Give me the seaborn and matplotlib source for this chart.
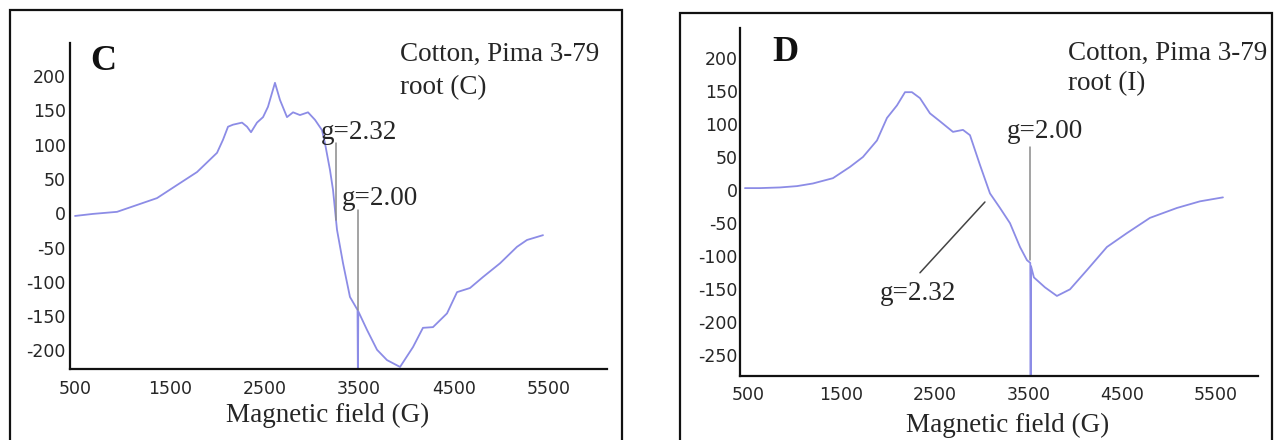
import matplotlib
matplotlib.use("Agg")
import matplotlib.pyplot as plt
import seaborn as sns
import pandas as pd
from matplotlib.patches import Rectangle

# ---- data ----
field_c = [500, 690, 944, 1155, 1366, 1577, 1789, 2000, 2063, 2116,
           2169, 2264, 2317, 2359, 2422, 2486, 2538, 2612, 2665, 2739,
           2803, 2876, 2961, 3035, 3109, 3140, 3193, 3225, 3267, 3331,
           3404, 3484, 3488, 3492, 3584, 3690, 3795, 3933, 4070, 4175,
           4281, 4429, 4535, 4672, 4809, 4989, 5168, 5274, 5443]
signal_c = [-4, -1, 2, 12, 22, 41, 60, 88, 107, 126,
            129, 132, 126, 118, 132, 140, 155, 190, 165, 140,
            147, 143, 147, 136, 121, 102, 63, 34, -24, -73,
            -122, -141, -240, -143, -170, -199, -214, -224, -195, -167,
            -166, -146, -115, -109, -93, -73, -49, -39, -32]

field_d = [468, 628, 842, 1024, 1195, 1409, 1591, 1730, 1880, 1987,
           2094, 2180, 2254, 2340, 2447, 2554, 2693, 2800, 2875, 2982,
           3089, 3196, 3303, 3410, 3485, 3520, 3524, 3528, 3559, 3677,
           3805, 3945, 4126, 4340, 4554, 4800, 5089, 5335, 5581]
signal_d = [3, 3, 4, 6, 10, 18, 35, 50, 75, 109,
            128, 148, 148, 139, 116, 104, 88, 91, 83, 38,
            -5, -27, -50, -86, -106, -110, -290, -115, -132, -147,
            -160, -150, -121, -86, -65, -42, -27, -17, -11]

xticks = [500, 1500, 2500, 3500, 4500, 5500]
yticks_c = [-200, -150, -100, -50, 0, 50, 100, 150, 200]
yticks_d = [-250, -200, -150, -100, -50, 0, 50, 100, 150, 200]

panel_c = "C"
panel_d = "D"
title_c = ["Cotton, Pima 3-79", "root (C)"]
title_d = ["Cotton, Pima 3-79", "root (I)"]
xlabel = "Magnetic field (G)"

# ---- style ----
sns.set_style("white")
plt.rcParams["font.family"] = ["DejaVu Sans"]

W, H = 1274, 440
fig = plt.figure(figsize=(W / 100, H / 100), dpi=100)

def fx(px):
    return px / W

def fy(py):
    return 1 - py / H

line_col = "#8c8ce6"
text_col = "#262626"
serif = ["Liberation Serif", "DejaVu Serif"]
fs = 19.5

# outer frames
fig.patches.append(Rectangle((fx(10), fy(460)), fx(622) - fx(10), fy(10) - fy(460),
                             transform=fig.transFigure, fill=False, lw=1.6,
                             ec="#111111", clip_on=False))
fig.patches.append(Rectangle((fx(680), fy(460)), fx(1272) - fx(680), fy(13) - fy(460),
                             transform=fig.transFigure, fill=False, lw=1.6,
                             ec="#111111", clip_on=False))

ax_c = fig.add_axes([fx(70), fy(369), fx(607) - fx(70), fy(43) - fy(369)])
ax_d = fig.add_axes([fx(740), fy(376), fx(1258) - fx(740), fy(28) - fy(376)])

df_c = pd.DataFrame({"field": field_c, "signal": signal_c})
df_d = pd.DataFrame({"field": field_d, "signal": signal_d})

sns.lineplot(data=df_c, x="field", y="signal", ax=ax_c, sort=False,
             estimator=None, color=line_col, lw=1.3)
sns.lineplot(data=df_d, x="field", y="signal", ax=ax_d, sort=False,
             estimator=None, color=line_col, lw=1.3)

ax_c.set_xlim(447, 6119)
ax_c.set_ylim(-227, 248)
ax_d.set_xlim(415, 5956)
ax_d.set_ylim(-281, 245)

for ax, yt, padx in ((ax_c, yticks_c, 8), (ax_d, yticks_d, 7.5)):
    ax.set_xticks(xticks)
    ax.set_yticks(yt)
    ax.set_xticklabels([str(t) for t in xticks])
    ax.set_yticklabels([str(t) for t in yt])
    ax.tick_params(axis="both", length=0, labelsize=12.5, colors=text_col)
    ax.tick_params(axis="x", pad=padx)
    ax.tick_params(axis="y", pad=3 if ax is ax_c else 1.5)
    ax.set_xlabel("")
    ax.set_ylabel("")
    for s in ("top", "right"):
        ax.spines[s].set_visible(False)
    for s in ("left", "bottom"):
        ax.spines[s].set_color("#111111")
        ax.spines[s].set_linewidth(1.6)
    ax.patch.set_alpha(0)

# panel letters and titles
ax_c.text(659, 221, panel_c, fontsize=26, fontweight="bold", family=serif,
          ha="left", va="center", color="#111111", clip_on=False)
ax_c.text(3933, 231, title_c[0], fontsize=fs, family=serif, ha="left",
          va="center", color=text_col, clip_on=False)
ax_c.text(3933, 183, title_c[1], fontsize=fs, family=serif, ha="left",
          va="center", color=text_col, clip_on=False)

ax_d.text(757, 208, panel_d, fontsize=26, fontweight="bold", family=serif,
          ha="left", va="center", color="#111111", clip_on=False)
ax_d.text(3923, 207, title_d[0], fontsize=fs, family=serif, ha="left",
          va="center", color=text_col, clip_on=False)
ax_d.text(3923, 161, title_d[1], fontsize=fs, family=serif, ha="left",
          va="center", color=text_col, clip_on=False)

# g-value annotations, panel C
ax_c.text(3098, 118, "g=2.32", fontsize=fs, family=serif, ha="left",
          va="center", color=text_col)
ax_c.plot([3257, 3257], [102, -10], color="#8a8a8a", lw=1.1)
ax_c.text(3320, 22, "g=2.00", fontsize=fs, family=serif, ha="left",
          va="center", color=text_col)
ax_c.plot([3484, 3484], [5, -141], color="#8a8a8a", lw=1.1)

# g-value annotations, panel D
ax_d.text(3271, 88, "g=2.00", fontsize=fs, family=serif, ha="left",
          va="center", color=text_col)
ax_d.plot([3522, 3522], [65, -106], color="#8a8a8a", lw=1.1)
ax_d.text(1912, -156, "g=2.32", fontsize=fs, family=serif, ha="left",
          va="center", color=text_col)
ax_d.plot([2340, 3035], [-125, -18], color="#444444", lw=1.1)

# axis labels
fig.text(fx(328), fy(415), xlabel, fontsize=fs, family=serif,
         ha="center", va="center", color=text_col)
fig.text(fx(1008), fy(425), xlabel, fontsize=fs, family=serif,
         ha="center", va="center", color=text_col)

fig.savefig("out.png", dpi=100)
